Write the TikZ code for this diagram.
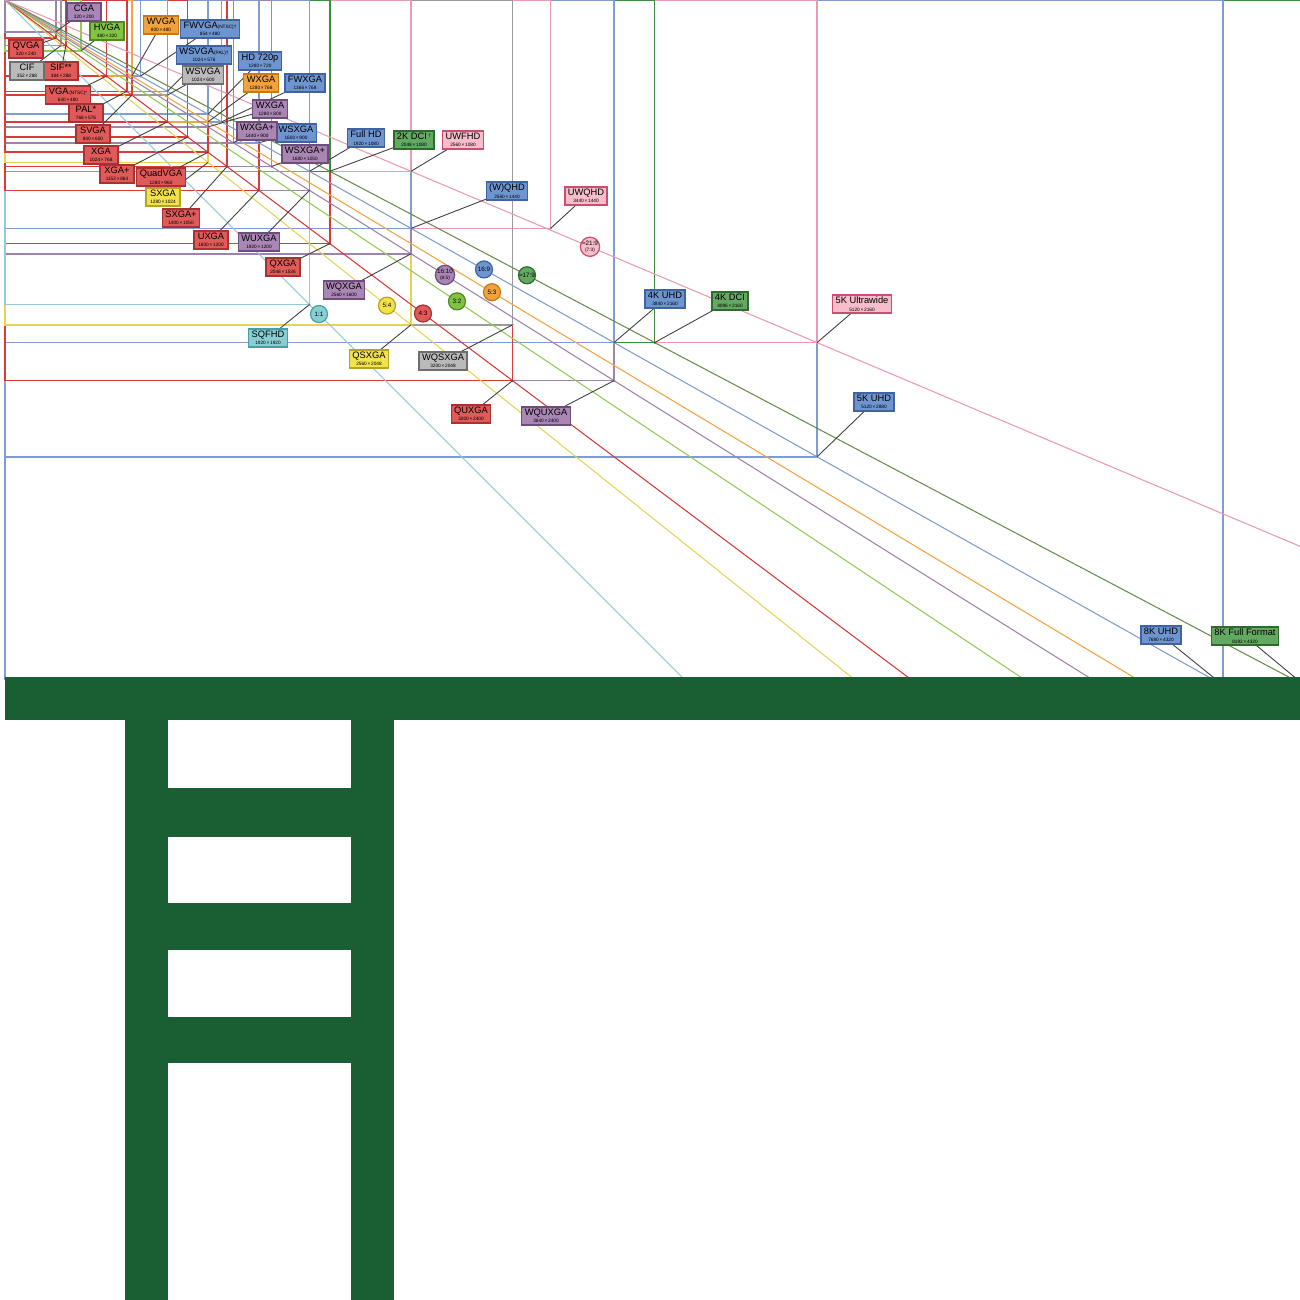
\documentclass[tikz,border=0pt]{standalone}
\usepackage{fontspec}
\setmainfont{Liberation Sans}
\usetikzlibrary{positioning}

\definecolor{rdfill}{HTML}{E05A5A}\definecolor{rdedge}{HTML}{A83232}\definecolor{rdline}{HTML}{D93A3A}
\definecolor{blfill}{HTML}{6E95CF}\definecolor{bledge}{HTML}{3E64A3}\definecolor{blline}{HTML}{7F9DD0}
\definecolor{pufill}{HTML}{A986B4}\definecolor{puedge}{HTML}{6E4C7C}\definecolor{puline}{HTML}{A083AC}
\definecolor{gnfill}{HTML}{64A961}\definecolor{gnedge}{HTML}{2F6B2D}\definecolor{gnline}{HTML}{3E8B3F}
\definecolor{lifill}{HTML}{82C344}\definecolor{liedge}{HTML}{4E8A1F}\definecolor{liline}{HTML}{8FCB55}
\definecolor{orfill}{HTML}{F2A23C}\definecolor{oredge}{HTML}{C47A16}\definecolor{orline}{HTML}{F2A544}
\definecolor{yefill}{HTML}{F2E24E}\definecolor{yeedge}{HTML}{B5A321}\definecolor{yeline}{HTML}{E6D450}
\definecolor{gyfill}{HTML}{BABABA}\definecolor{gyedge}{HTML}{6E6E6E}\definecolor{gyline}{HTML}{9A9A9A}
\definecolor{pkfill}{HTML}{F6BDCB}\definecolor{pkedge}{HTML}{CC4D72}\definecolor{pkline}{HTML}{E89BB2}
\definecolor{cyfill}{HTML}{88CFD4}\definecolor{cyedge}{HTML}{4A9EA5}\definecolor{cyline}{HTML}{92CBD3}
\definecolor{olline}{HTML}{6A8C4C}
\definecolor{barcol}{HTML}{1A5E33}

\newcommand{\namefont}{\fontsize{2.65}{2.1}\selectfont\lineskiplimit=-5pt\relax}
\newcommand{\subfont}{\fontsize{1.35}{2.1}\selectfont}
\newcommand{\tagfont}{\fontsize{1.35}{1.6}\selectfont}
\newcommand{\ratiofont}{\fontsize{1.8}{1.6}\selectfont\lineskiplimit=-5pt\relax}
\newcommand{\dcimark}{\raisebox{0.7pt}{\tagfont †}}

% width/height/colour/label x/label y/name
\def\reslist{8192/4320/gn/1245/636/{8K Full Format},
  7680/4320/bl/1161/635/{8K UHD},
  5120/2880/bl/874/402/{5K UHD},
  5120/2160/pk/862/304/{5K Ultrawide},
  4096/2160/gn/730/301/{4K DCI},
  3840/2400/pu/546/416/{WQUXGA},
  3840/2160/bl/665/299/{4K UHD},
  3200/2400/rd/471/414/{QUXGA},
  3440/1440/pk/586/196/{UWQHD},
  3200/2048/gy/443/361/{WQSXGA},
  2560/2048/ye/369/359/{QSXGA},
  2560/1600/pu/344/290/{WQXGA},
  2560/1440/bl/507/191/{(W)QHD},
  2560/1080/pk/463/140/{UWFHD},
  2048/1536/rd/283/267/{QXGA},
  1920/1920/cy/268/338/{SQFHD},
  1920/1200/pu/259/242/{WUXGA},
  2048/1080/gn/414/140/{2K DCI\,\dcimark},
  1920/1080/bl/366/138/{Full HD},
  1600/1200/rd/211/240/{UXGA},
  1680/1050/pu/305/154/{WSXGA+},
  1400/1050/rd/181/218/{SXGA+},
  1600/900/bl/296/133/{WSXGA},
  1440/900/pu/257/131/{WXGA+},
  1280/1024/ye/163/197/{SXGA},
  1280/960/rd/161/177/{QuadVGA},
  1366/768/bl/305/83/{FWXGA},
  1280/800/pu/270/109/{WXGA},
  1280/768/or/261/83/{WXGA},
  1280/720/bl/260/61/{HD 720p},
  1152/864/rd/117/174/{XGA+},
  1024/768/rd/101/155/{XGA},
  1024/600/gy/203/75/{WSVGA},
  1024/576/bl/204/55/{WSVGA{\tagfont(PAL)†}},
  854/480/bl/210/29/{FWVGA{\tagfont(NTSC)†}},
  800/600/rd/93/134/{SVGA},
  800/480/or/161/25/{WVGA},
  768/576/rd/86/113/{PAL*},
  640/480/rd/68/95/{VGA{\tagfont\,(NTSC)*}},
  480/320/li/107/31/{HVGA},
  384/288/rd/61/71/{SIF**},
  352/288/gy/27/71/{CIF},
  320/240/rd/26/49/{QVGA},
  320/200/pu/84/12/{CGA}}

% ratio w/ratio h/colour/ray colour/circle x/text
\def\ratiolist{1/1/cy/cy/319/{1:1},
  5/4/ye/ye/387/{5:4},
  4/3/rd/rd/423/{4:3},
  3/2/li/li/457/{3:2},
  16/10/pu/pu/445/{16:10\\{\tagfont(8:5)}},
  5/3/or/or/492/{5:3},
  16/9/bl/bl/484/{16:9},
  256/135/gn/ol/527/{≈17:9},
  64/27/pk/pk/590/{≈21:9\\{\tagfont(7:3)}}}

\begin{document}
\begin{tikzpicture}[x=0.1mm, y=-0.1mm,
    resline/.style={draw=#1line, line width=0.45pt},
    ratioline/.style={draw=#1line, line width=0.3pt},
    cornerdot/.style={fill=#1line},
    resbox/.style={draw=#1edge, fill=#1fill, line width=0.35pt, align=center,
      inner xsep=0.3mm, inner ysep=0.2mm, minimum width=3.4mm, minimum height=1.8mm, font=\namefont},
    ratiodot/.style={circle, draw=#1edge, fill=#1fill, line width=0.35pt, inner sep=0pt,
      minimum size=1.7mm, align=center, font=\ratiofont},
    leader/.style={draw=black!75, line width=0.25pt}
  ]
  \fill[white] (0,0) rectangle (1300,1300);
  \useasboundingbox (0,0) rectangle (1300,1300);

  \begin{scope}
    \clip (0,0) rectangle (1300,679);
    % frames, largest first
    \foreach \rw/\rh/\col/\lx/\ly/\name in \reslist {
      \draw[resline=\col] (5,0) rectangle ({5+\rw*0.1586},{\rh*0.1586});
    }
    % aspect ratio rays
    \foreach \aw/\ah/\col/\ray/\cx/\txt in \ratiolist {
      \draw[ratioline=\ray] (5,0) -- (1405,{1400/\aw*\ah});
    }
    % corners and leaders
    \foreach \rw/\rh/\col/\lx/\ly/\name in \reslist {
      \coordinate (c-\rw-\rh) at ({5+\rw*0.1586},{\rh*0.1586});
      \fill[cornerdot=\col] (c-\rw-\rh) circle (1.4);
      \coordinate (p-\rw-\rh) at (\lx,\ly);
      \draw[leader] (c-\rw-\rh) -- (p-\rw-\rh);
    }
    % labels
    \foreach \rw/\rh/\col/\lx/\ly/\name in \reslist {
      \node[resbox=\col] (l-\rw-\rh) at (p-\rw-\rh) {\name\\{\subfont \rw\,×\,\rh}};
    }
    \foreach \aw/\ah/\col/\ray/\cx/\txt in \ratiolist {
      \pgfmathsetmacro\cy{(\cx-5)/\aw*\ah}
      \node[ratiodot=\col] (r-\aw-\ah) at (\cx,\cy) {\txt};
    }
  \end{scope}

  % green bar and ladder
  \fill[barcol] (5,677) rectangle (1300,720);
  \fill[barcol] (125,720) rectangle (168,1300);
  \fill[barcol] (351,720) rectangle (394,1300);
  \foreach \ya/\yb in {788/837, 903/950, 1017/1063}
    \fill[barcol] (168,\ya) rectangle (351,\yb);
\end{tikzpicture}
\end{document}
